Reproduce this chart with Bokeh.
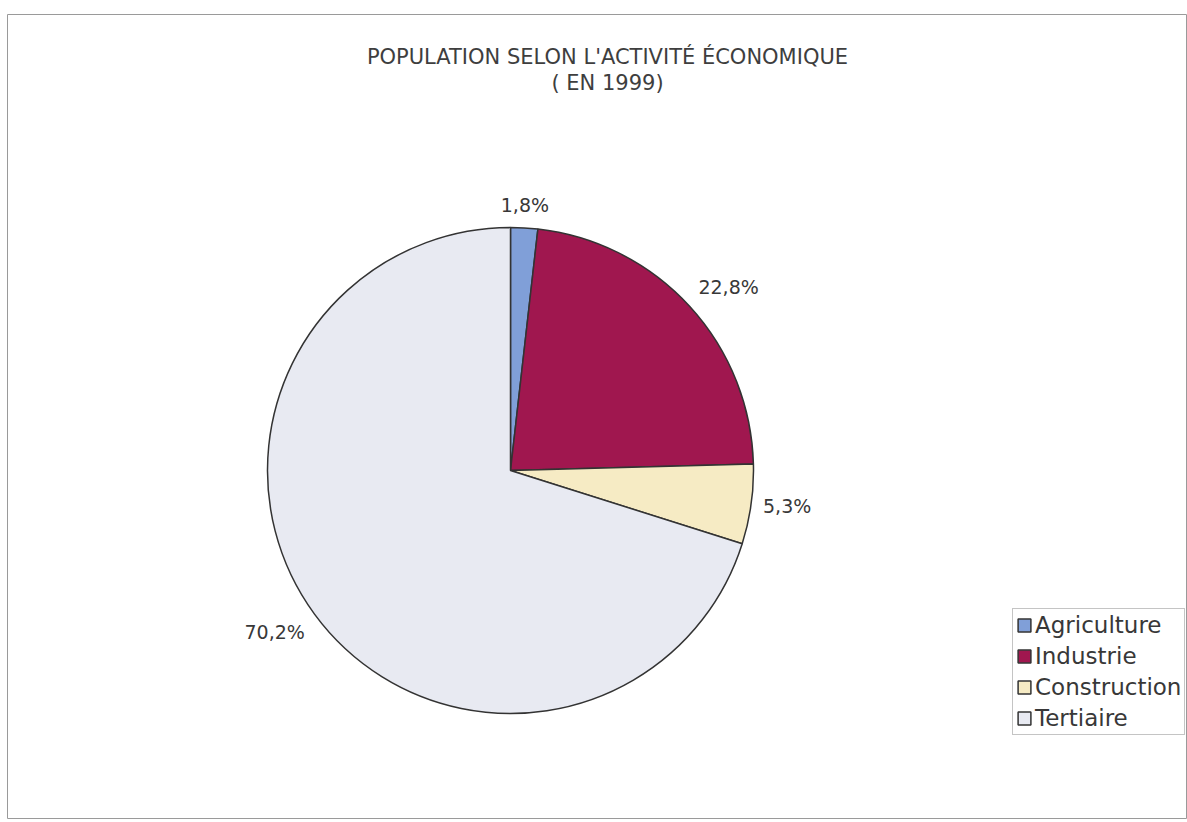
import numpy as np
from bokeh.plotting import figure
from bokeh.models import ColumnDataSource, Range1d, Legend, LegendItem, Label
from bokeh.core.properties import value
from bokeh.embed import file_html
from bokeh.resources import INLINE

# ---- data ----
sectors = ["Agriculture", "Industrie", "Construction", "Tertiaire"]
shares = [1.8, 22.8, 5.3, 70.2]
colors = ["#809fd8", "#a0174f", "#f6ebc4", "#e8eaf2"]
title_lines = ["POPULATION SELON L'ACTIVITÉ ÉCONOMIQUE", "( EN 1999)"]

FONT = "DejaVu Sans"
W, H = 1187, 822
ML, MT, MB = 7, 14, 4
FW, FH = W - ML, H - MT - MB

p = figure(width=W, height=H, output_backend="svg", toolbar_location=None,
           x_range=Range1d(0, FW), y_range=Range1d(0, FH),
           min_border_left=ML, min_border_right=0, min_border_top=MT, min_border_bottom=MB)
p.axis.visible = False
p.grid.visible = False
p.outline_line_color = "#9a9a9a"
p.outline_line_width = 1
p.background_fill_color = "white"
p.border_fill_color = "white"

cx, cy, R = 503, 348, 243

frac = np.array(shares) / np.sum(shares)
cum = np.concatenate([[0], np.cumsum(frac)])
start = np.pi / 2 - 2 * np.pi * cum[:-1]
end = np.pi / 2 - 2 * np.pi * cum[1:]
mid = (start + end) / 2

src = ColumnDataSource(dict(sector=sectors, start=start, end=end, color=colors,
                            x=[cx] * 4, y=[cy] * 4))
wr = p.wedge(x="x", y="y", radius=R, radius_units="screen", start_angle="start", end_angle="end",
             direction="clock", fill_color="color", line_color="#333333", line_width=1.5, source=src)

# percentage labels
pad = 12
c, s = np.cos(mid), np.sin(mid)
lx = cx + (R + pad) * c
ly = cy + (R + pad) * s
align = ["left" if ci > 0.3 else ("right" if ci < -0.3 else "center") for ci in c]
base = ["bottom" if si > 0.3 else ("top" if si < -0.3 else "middle") for si in s]
txt = [("%.1f%%" % v).replace(".", ",") for v in shares]
lsrc = ColumnDataSource(dict(x=lx, y=ly, t=txt, a=align, b=base))
p.text(x="x", y="y", text="t", text_align="a", text_baseline="b", source=lsrc,
       text_font=value(FONT), text_font_size="19px", text_color="#383838")

# title
tx = 600
for i, line in enumerate(title_lines):
    p.add_layout(Label(x=tx, y=FH - 42 - 26 * i, text=line, text_align="center", text_baseline="middle",
                       text_font=FONT, text_font_size="21px", text_color="#3e3e3e"))

# legend
items = [LegendItem(label=sectors[i], renderers=[wr], index=i) for i in range(4)]
leg = Legend(items=items, location=(1005, 83), orientation="vertical",
             label_text_font=FONT, label_text_font_size="23px", label_text_color="#383838",
             glyph_width=16, glyph_height=16, label_height=26, spacing=5, padding=3,
             label_standoff=3, margin=0,
             border_line_color="#8a8a8a", border_line_width=1, background_fill_color="white")
p.add_layout(leg, "center")

open("out.html", "w").write(file_html(p, INLINE))
